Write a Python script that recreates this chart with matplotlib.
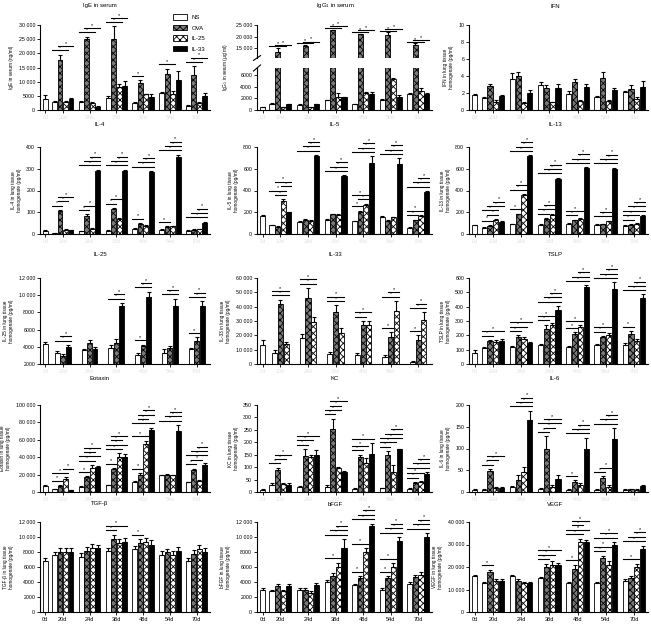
import numpy as np
import matplotlib.pyplot as plt
from matplotlib.ticker import FuncFormatter

plt.rcParams['font.family'] = ['Liberation Sans', 'DejaVu Sans']
plt.rcParams['hatch.linewidth'] = 0.6

days = ['0d', '20d', '24d', '38d', '48d', '54d', '70d']

# NS has a 0d value, the treated groups start at 20d
ige_ns = [4000, 3000, 3000, 4300, 2500, 6000, 1400]
ige_ova = [17500, 25200, 25000, 9700, 12800, 12500]
ige_il25 = [2800, 2300, 8000, 5500, 5800, 2500]
ige_il33 = [4000, 1200, 8500, 4500, 10500, 5000]
ige_err = [[1200, 200, 300, 600, 300, 300, 300], [2000, 700, 4500, 800, 1800, 3000],
           [300, 700, 1200, 300, 800, 500], [300, 200, 1800, 1200, 3300, 900]]
ige_sig = [[], [(0, 2), (1, 3)], [(0, 2), (1, 3)], [(0, 2), (1, 3)], [(0, 1)], [(0, 2)], [(0, 2), (1, 3)]]

igg_ns = [500, 1100, 900, 1700, 1000, 1800, 2800]
igg_ova = [13500, 16000, 22800, 21000, 20800, 16500]
igg_il25 = [500, 500, 2200, 3000, 5400, 3200]
igg_il33 = [1000, 1000, 2200, 2800, 2200, 2700]
igg_err = [[100, 100, 100, 100, 100, 100, 200], [1500, 400, 200, 300, 1000, 500],
           [100, 100, 700, 100, 100, 500], [100, 100, 100, 300, 300, 200]]
igg_sig = [[], [(0, 2), (1, 3)], [(0, 2), (1, 3)], [(0, 2), (1, 3)], [(0, 2), (1, 3)], [(0, 2), (1, 3)], [(0, 2), (1, 3)]]

ifn_ns = [1.8, 1.4, 3.6, 3.0, 1.9, 1.5, 2.1]
ifn_ova = [2.8, 4.0, 2.6, 3.3, 3.8, 2.5]
ifn_il25 = [1.0, 0.8, 0.9, 1.1, 1.1, 1.3]
ifn_il33 = [1.7, 2.0, 2.6, 2.7, 2.3, 2.7]
ifn_err = [[0.1, 0.15, 0.8, 0.3, 0.3, 0.1, 0.1], [0.3, 0.5, 0.4, 0.4, 0.7, 0.4],
           [0.2, 0.1, 0.1, 0.1, 0.1, 0.2], [0.1, 0.4, 0.5, 0.4, 0.3, 0.7]]
ifn_sig = [[]] * 7

il4_ns = [15, 5, 12, 15, 25, 20, 15]
il4_ova = [105, 85, 115, 45, 30, 20]
il4_il25 = [20, 25, 70, 38, 35, 22]
il4_il33 = [18, 290, 290, 285, 355, 52]
il4_err = [[2, 1, 2, 2, 3, 2, 2], [5, 5, 5, 5, 5, 3], [3, 3, 3, 3, 3, 3], [2, 5, 5, 5, 10, 5]]
il4_sig = [[], [(0, 1), (1, 2), (1, 3)], [(0, 1), (1, 2), (0, 3), (1, 3), (2, 3)],
           [(0, 1), (1, 2), (0, 3), (1, 3), (2, 3)], [(0, 1), (0, 3), (1, 3), (2, 3)],
           [(0, 1), (0, 3), (1, 3), (2, 3)], [(0, 3), (1, 3), (2, 3)]]

il5_ns = [170, 80, 110, 130, 115, 155, 55]
il5_ova = [65, 130, 180, 200, 120, 125]
il5_il25 = [300, 120, 175, 270, 155, 165]
il5_il33 = [200, 715, 530, 655, 645, 385]
il5_err = [[5, 5, 5, 8, 5, 8, 5], [5, 10, 8, 15, 5, 8], [20, 8, 5, 8, 5, 10], [5, 10, 10, 60, 50, 10]]
il5_sig = [[], [(1, 2), (0, 2), (2, 3), (1, 3)], [(0, 3), (1, 3), (2, 3)], [(0, 3), (1, 3), (2, 3)],
           [(0, 1), (1, 2), (0, 2), (0, 3), (1, 3), (2, 3)], [(0, 3), (1, 3), (2, 3)],
           [(0, 1), (0, 2), (0, 3), (1, 3), (2, 3)]]

il13_ns = [80, 55, 90, 85, 95, 85, 75]
il13_ova = [75, 180, 140, 125, 90, 85]
il13_il25 = [130, 360, 175, 135, 115, 95]
il13_il33 = [110, 715, 510, 605, 600, 165]
il13_err = [[5, 5, 5, 5, 5, 5, 5], [8, 8, 8, 8, 5, 8], [8, 8, 8, 8, 8, 8], [5, 8, 8, 8, 10, 10]]
il13_sig = [[], [(0, 1), (1, 2), (0, 2), (1, 3), (2, 3)], [(0, 1), (0, 2), (1, 2), (0, 3), (1, 3), (2, 3)],
            [(0, 1), (0, 2), (1, 2), (0, 3), (1, 3), (2, 3)], [(0, 1), (0, 2), (0, 3), (1, 3), (2, 3)],
            [(0, 2), (1, 2), (0, 3), (1, 3), (2, 3)], [(0, 1), (0, 2), (0, 3), (1, 3), (2, 3)]]

# IL-25 panel: NS, OVA, IL-33 only
il25_ns = [4300, 3300, 3600, 3900, 3100, 3300, 3700]
il25_ova = [2900, 4400, 4500, 4100, 3900, 4700]
il25_il33 = [4000, 3700, 8700, 9800, 8800, 8700]
il25_err = [[300, 250, 200, 300, 150, 400, 200], [300, 400, 400, 150, 200, 400],
            [200, 300, 400, 600, 800, 600]]
il25_sig = [[], [(0, 2), (1, 2)], [], [(0, 2), (1, 2)], [(0, 1), (0, 2), (1, 2)], [(0, 2), (1, 2)],
            [(0, 1), (0, 2), (1, 2)]]

# IL-33 panel: NS, OVA, IL-25 only
il33_ns = [13500, 8000, 18000, 7000, 6000, 5000, 1500]
il33_ova = [42000, 46000, 36000, 27000, 19000, 17000]
il33_il25 = [14000, 29500, 21500, 27000, 37000, 31000]
il33_err = [[3000, 2000, 3000, 1500, 2000, 1000, 500], [3000, 7000, 5000, 3000, 3000, 3000],
            [1500, 3000, 3500, 3000, 7000, 5000]]
il33_sig = [[], [(0, 2), (0, 2)], [(0, 2), (0, 2)], [(0, 2), (0, 2)], [(0, 1), (0, 2)],
            [(0, 1), (0, 2), (1, 2)], [(0, 1), (0, 2), (1, 2)]]

tslp_ns = [75, 110, 120, 130, 120, 130, 135]
tslp_ova = [160, 190, 245, 210, 185, 210]
tslp_il25 = [155, 175, 270, 255, 200, 160]
tslp_il33 = [160, 150, 380, 535, 520, 460]
tslp_err = [[20, 10, 5, 10, 5, 10, 15], [8, 10, 30, 10, 10, 20], [15, 10, 15, 15, 15, 15],
            [15, 5, 25, 15, 50, 25]]
tslp_sig = [[], [(0, 1), (0, 3)], [(0, 1), (0, 2), (0, 3)], [(0, 1), (0, 2), (0, 3), (1, 3), (2, 3)],
            [(0, 1), (0, 2), (0, 3), (1, 3), (2, 3)], [(0, 1), (0, 2), (0, 3), (1, 3), (2, 3)],
            [(0, 1), (0, 3), (1, 3), (2, 3)]]

eot_ns = [7000, 3000, 6000, 8000, 12000, 19000, 11000]
eot_ova = [7000, 17000, 26000, 20000, 20000, 25000]
eot_il25 = [15000, 28000, 40000, 55000, 19000, 13000]
eot_il33 = [2000, 29000, 40000, 71000, 70000, 31000]
eot_err = [[500, 500, 500, 500, 500, 500, 500], [1000, 1000, 1500, 2000, 1000, 2000],
           [2000, 3000, 4500, 4000, 1000, 1000], [500, 1000, 4000, 3000, 7000, 2000]]
eot_sig = [[], [(0, 1), (0, 2), (2, 3)], [(0, 1), (0, 2), (0, 3), (1, 2), (1, 3)],
           [(0, 1), (0, 2), (0, 3), (1, 2), (1, 3)], [(0, 1), (0, 2), (0, 3), (1, 2), (1, 3), (2, 3)],
           [(0, 3), (1, 3), (2, 3)], [(0, 1), (1, 2), (0, 3), (1, 3), (2, 3)]]

kc_ns = [10, 30, 20, 22, 12, 15, 12]
kc_ova = [88, 143, 255, 140, 150, 35]
kc_il25 = [33, 140, 95, 115, 80, 40]
kc_il33 = [30, 147, 80, 152, 172, 72]
kc_err = [[2, 5, 5, 5, 3, 3, 3], [10, 30, 40, 10, 15, 5], [5, 10, 5, 20, 30, 3], [8, 20, 5, 45, 3, 8]]
kc_sig = [[], [(0, 1), (1, 2), (1, 3)], [(0, 1), (0, 2), (0, 3)], [(0, 1), (0, 2), (1, 2), (1, 3)],
          [(0, 1), (0, 2), (0, 3)], [(0, 1), (0, 2), (0, 3), (1, 3), (2, 3)],
          [(0, 1), (0, 2), (0, 3), (1, 3), (2, 3)]]

il6_ns = [5, 5, 12, 8, 5, 5, 5]
il6_ova = [48, 28, 98, 22, 33, 6]
il6_il25 = [10, 45, 12, 15, 12, 5]
il6_il33 = [10, 165, 30, 100, 122, 13]
il6_err = [[1, 1, 2, 2, 1, 1, 1], [5, 10, 30, 5, 3, 1], [2, 13, 5, 5, 5, 1], [2, 22, 8, 25, 25, 4]]
il6_sig = [[], [(0, 1), (1, 2), (1, 3)], [(0, 3), (1, 3), (2, 3)], [(0, 1), (1, 2), (0, 3), (1, 3)],
           [(0, 1), (0, 3), (1, 3), (2, 3)], [(0, 1), (1, 2), (0, 3), (1, 3), (2, 3)], []]

tgf_ns = [6800, 7600, 7400, 8200, 8400, 7600, 6800]
tgf_ova = [8000, 8200, 9800, 9200, 8000, 7800]
tgf_il25 = [8000, 8600, 9200, 9300, 7600, 8400]
tgf_il33 = [8000, 8500, 9400, 9000, 8200, 8000]
tgf_err = [[400, 400, 500, 400, 400, 500, 400], [600, 500, 500, 500, 400, 500],
           [500, 500, 600, 600, 500, 600], [500, 400, 500, 600, 500, 600]]
tgf_sig = [[], [], [], [(0, 1), (0, 3)], [(0, 1)], [], []]

bfgf_ns = [3000, 2800, 3000, 4000, 3600, 3000, 3800]
bfgf_ova = [3500, 3000, 4800, 4500, 4500, 4700]
bfgf_il25 = [2800, 2600, 6000, 8000, 6000, 5000]
bfgf_il33 = [3500, 3600, 8500, 11500, 9500, 10000]
bfgf_err = [[200, 200, 200, 300, 200, 200, 200], [300, 200, 400, 300, 300, 300],
            [200, 200, 600, 500, 500, 300], [300, 300, 1200, 300, 500, 500]]
bfgf_sig = [[], [], [], [(0, 2), (0, 3), (1, 3), (2, 3)], [(0, 1), (0, 2), (0, 3), (1, 3), (2, 3)],
            [(0, 1), (0, 2), (0, 3), (1, 3), (2, 3)], [(0, 3), (1, 3), (2, 3)]]

vegf_ns = [16000, 13000, 16000, 15000, 13000, 13000, 14000]
vegf_ova = [18000, 14000, 20000, 19000, 24000, 15000]
vegf_il25 = [14000, 13000, 21000, 31000, 21000, 20000]
vegf_il33 = [14000, 13000, 21000, 31000, 30000, 28000]
vegf_err = [[500, 500, 500, 500, 500, 500, 500], [800, 600, 1500, 2000, 1000, 1000],
            [600, 500, 1500, 1500, 1500, 1500], [600, 500, 1000, 1000, 1000, 1500]]
vegf_sig = [[], [(0, 1)], [], [(0, 1), (0, 2), (0, 3)], [(0, 1), (0, 2), (0, 3), (1, 2), (1, 3)],
            [(0, 1), (0, 2), (0, 3), (1, 3)], [(0, 2), (0, 3), (1, 3), (2, 3)]]

STYLE = {
    'NS': dict(facecolor='white', hatch=None),
    'OVA': dict(facecolor='#7a7a7a', hatch='xxxxx'),
    'IL-25': dict(facecolor='white', hatch='xxxxx'),
    'IL-33': dict(facecolor='black', hatch=None),
}
ALL4 = ['NS', 'OVA', 'IL-25', 'IL-33']
LUNG = ' in lung tissue\nhomogenate (pg/ml)'

panels = [
    dict(title='IgE in serum', ylabel='IgE in serum (ng/ml)', ylim=(0, 30000),
         yticks=[0, 5000, 10000, 15000, 20000, 25000, 30000], series=ALL4,
         means=[ige_ns, ige_ova, ige_il25, ige_il33], errs=ige_err, sig=ige_sig),
    dict(title='IgG$_1$ in serum', ylabel='IgG$_1$ in serum (μg/ml)', ylim=None, yticks=None,
         series=ALL4, means=[igg_ns, igg_ova, igg_il25, igg_il33], errs=igg_err, sig=igg_sig),
    dict(title='IFN', ylabel='IFN' + LUNG, ylim=(0, 10), yticks=[0, 2, 4, 6, 8, 10], series=ALL4,
         means=[ifn_ns, ifn_ova, ifn_il25, ifn_il33], errs=ifn_err, sig=ifn_sig),
    dict(title='IL-4', ylabel='IL-4' + LUNG, ylim=(0, 400), yticks=[0, 100, 200, 300, 400], series=ALL4,
         means=[il4_ns, il4_ova, il4_il25, il4_il33], errs=il4_err, sig=il4_sig),
    dict(title='IL-5', ylabel='IL-5' + LUNG, ylim=(0, 800), yticks=[0, 200, 400, 600, 800], series=ALL4,
         means=[il5_ns, il5_ova, il5_il25, il5_il33], errs=il5_err, sig=il5_sig),
    dict(title='IL-13', ylabel='IL-13' + LUNG, ylim=(0, 800), yticks=[0, 200, 400, 600, 800], series=ALL4,
         means=[il13_ns, il13_ova, il13_il25, il13_il33], errs=il13_err, sig=il13_sig),
    dict(title='IL-25', ylabel='IL-25' + LUNG, ylim=(2000, 12000),
         yticks=[2000, 4000, 6000, 8000, 10000, 12000], series=['NS', 'OVA', 'IL-33'],
         means=[il25_ns, il25_ova, il25_il33], errs=il25_err, sig=il25_sig),
    dict(title='IL-33', ylabel='IL-33' + LUNG, ylim=(0, 60000),
         yticks=[0, 10000, 20000, 30000, 40000, 50000, 60000], series=['NS', 'OVA', 'IL-25'],
         means=[il33_ns, il33_ova, il33_il25], errs=il33_err, sig=il33_sig),
    dict(title='TSLP', ylabel='TSLP' + LUNG, ylim=(0, 600), yticks=[0, 100, 200, 300, 400, 500, 600],
         series=ALL4, means=[tslp_ns, tslp_ova, tslp_il25, tslp_il33], errs=tslp_err, sig=tslp_sig),
    dict(title='Eotaxin', ylabel='Eotaxin' + LUNG, ylim=(0, 100000),
         yticks=[0, 20000, 40000, 60000, 80000, 100000], series=ALL4,
         means=[eot_ns, eot_ova, eot_il25, eot_il33], errs=eot_err, sig=eot_sig),
    dict(title='KC', ylabel='KC' + LUNG, ylim=(0, 350), yticks=[0, 50, 100, 150, 200, 250, 300, 350],
         series=ALL4, means=[kc_ns, kc_ova, kc_il25, kc_il33], errs=kc_err, sig=kc_sig),
    dict(title='IL-6', ylabel='IL-6' + LUNG, ylim=(0, 200), yticks=[0, 50, 100, 150, 200], series=ALL4,
         means=[il6_ns, il6_ova, il6_il25, il6_il33], errs=il6_err, sig=il6_sig),
    dict(title='TGF-β', ylabel='TGF-β' + LUNG, ylim=(0, 12000),
         yticks=[0, 2000, 4000, 6000, 8000, 10000, 12000], series=ALL4,
         means=[tgf_ns, tgf_ova, tgf_il25, tgf_il33], errs=tgf_err, sig=tgf_sig),
    dict(title='bFGF', ylabel='bFGF' + LUNG, ylim=(0, 12000),
         yticks=[0, 2000, 4000, 6000, 8000, 10000, 12000], series=ALL4,
         means=[bfgf_ns, bfgf_ova, bfgf_il25, bfgf_il33], errs=bfgf_err, sig=bfgf_sig),
    dict(title='VEGF', ylabel='VEGF' + LUNG, ylim=(0, 40000),
         yticks=[0, 10000, 20000, 30000, 40000], series=ALL4,
         means=[vegf_ns, vegf_ova, vegf_il25, vegf_il33], errs=vegf_err, sig=vegf_sig),
]

W, H = 651, 636
COLS = [(40, 210), (257, 432), (469, 648)]
ROWS = [(25, 110), (147, 234), (278, 364), (405, 492), (522, 612)]
TITLE_X = [100, 335, 555]
TITLE_Y = [6, 124, 254, 378, 504]
PITCH = 0.205
BW = 0.185
X0 = 0.35
XLIM = (0.15, 6.5)
TICK_FS = 3.8
LABEL_FS = 3.4


def fmt(v, pos):
    v = int(round(v))
    if abs(v) >= 10000:
        return '{:,}'.format(v).replace(',', ' ')
    return str(v)


def rect(l, r, t, b):
    return [l / W, 1 - b / H, (r - l) / W, (b - t) / H]


def bar_positions(n):
    xs = []
    for k in range(n):
        xs.append([1 + g + (k - (n - 1) / 2) * PITCH for g in range(6)])
    return xs


def draw_bars(ax, p):
    n = len(p['series'])
    xs = bar_positions(n)
    tops = np.zeros((7, n))
    handles = []
    for k, name in enumerate(p['series']):
        vals = p['means'][k]
        err = p['errs'][k]
        if k == 0:
            x = [X0] + xs[0]
        else:
            x = xs[k]
        st = STYLE[name]
        b = ax.bar(x, vals, BW, facecolor=st['facecolor'], hatch=st['hatch'],
                   edgecolor='black', linewidth=0.6, label=name, zorder=2)
        handles.append(b)
        ax.errorbar(x, vals, yerr=[np.zeros(len(vals)), err], fmt='none', ecolor='black',
                    elinewidth=0.8, capsize=1.5, capthick=0.8, zorder=3)
        for i, v in enumerate(vals):
            g = i if k == 0 else i + 1
            tops[g, k] = v + err[i]
    return xs, tops, handles


def draw_sig(ax, p, xs, tops, ylim):
    rng = ylim[1] - ylim[0]
    gap = 0.05 * rng
    for g in range(1, 7):
        level = list(tops[g])
        for (i, j) in p['sig'][g]:
            h = max(level[i:j + 1]) + gap
            x1 = xs[i][g - 1] - BW / 2
            x2 = xs[j][g - 1] + BW / 2
            ax.plot([x1, x2], [h, h], color='black', lw=0.8, clip_on=False, zorder=4)
            ax.text((x1 + x2) / 2, h + 0.003 * rng, '*', fontsize=4, ha='center', va='bottom',
                    clip_on=False)
            for m in range(i, j + 1):
                level[m] = h


def style_axes(ax, bottom=True):
    ax.spines['top'].set_visible(False)
    ax.spines['right'].set_visible(False)
    ax.spines['left'].set_linewidth(0.8)
    ax.spines['bottom'].set_linewidth(0.8)
    ax.tick_params(direction='out', length=2, width=0.6, labelsize=TICK_FS, pad=1.5)
    ax.yaxis.set_major_formatter(FuncFormatter(fmt))
    ax.set_xlim(*XLIM)
    ax.set_xticks([X0, 1, 2, 3, 4, 5, 6])
    if not bottom:
        ax.spines['bottom'].set_visible(False)
        ax.tick_params(axis='x', bottom=False, labelbottom=False)


fig = plt.figure(figsize=(W / 100, H / 100), dpi=100)
legend_handles = None

for idx, p in enumerate(panels):
    r, c = divmod(idx, 3)
    l, rr = COLS[c]
    t, b = ROWS[r]
    fig.text(TITLE_X[c] / W, 1 - TITLE_Y[r] / H, p['title'], fontsize=4.3, ha='center', va='center')

    if p['ylim'] is None:
        # broken y axis for IgG1
        up = fig.add_axes(rect(l, rr, t, 58))
        lo = fig.add_axes(rect(l, rr, 68, b))
        for ax, yl, ticks in [(up, (10700, 25000), [15000, 20000, 25000]),
                              (lo, (0, 7200), [0, 2000, 4000, 6000])]:
            xs, tops, _ = draw_bars(ax, p)
            ax.set_ylim(*yl)
            ax.set_yticks(ticks)
        style_axes(up, bottom=False)
        style_axes(lo)
        draw_sig(up, p, xs, tops, (10700, 25000))
        d = 0.012
        for ax, y in [(up, 0), (lo, 1)]:
            ax.plot([-0.02, 0.02], [y - d * 6, y + d * 6], transform=ax.transAxes, color='black',
                    lw=0.8, clip_on=False)
        lo.set_xticklabels(days, color='#e0e0e0')
        fig.text((l - 31) / W, 1 - 67 / H, p['ylabel'], rotation=90, fontsize=LABEL_FS,
                 ha='center', va='center')
        continue

    ax = fig.add_axes(rect(l, rr, t, b))
    xs, tops, handles = draw_bars(ax, p)
    ax.set_ylim(*p['ylim'])
    ax.set_yticks(p['yticks'])
    style_axes(ax)
    draw_sig(ax, p, xs, tops, p['ylim'])
    ax.set_ylabel(p['ylabel'], fontsize=LABEL_FS, labelpad=3, linespacing=1.3)
    if r == 4:
        ax.set_xticklabels(days, fontsize=4)
    else:
        ax.set_xticklabels(days, color='#e0e0e0')
    if idx == 0:
        legend_handles = handles

fig.legend(legend_handles, ['NS', 'OVA', 'IL-25', 'IL-33'], loc='upper left',
           bbox_to_anchor=(168 / W, 1 - 9 / H), frameon=False, fontsize=4.3,
           handlelength=2.2, handleheight=1.0, labelspacing=0.8, handletextpad=0.8)

fig.savefig('out.png', dpi=100)
